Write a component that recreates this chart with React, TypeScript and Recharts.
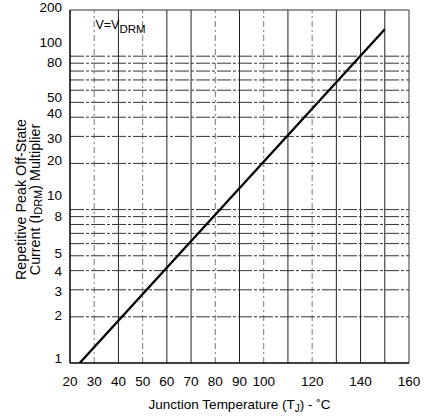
import React from "react";
import {
  LineChart,
  Line,
  XAxis,
  YAxis,
  ReferenceLine,
  ReferenceDot,
} from "recharts";

// Junction temperature (°C) and IDRM multiplier at the line's end points
const temperatures = [24, 150];
const multipliers = [1, 150];

const xTicks = [20, 30, 40, 50, 60, 70, 80, 90, 100, 120, 140, 160];
const yTicks = [1, 2, 3, 4, 5, 8, 10, 20, 30, 40, 50, 80, 100, 200];

const xGrid = [30, 40, 50, 60, 70, 80, 90, 100, 110, 120, 130, 140, 150];
const yGrid = [2, 3, 4, 5, 6, 7, 8, 9, 10, 20, 30, 40, 50, 60, 70, 80, 90, 100];

// styling / layout helpers (not data)
const xLight = [30, 50, 80, 100, 120];
const yLabelNudge: Record<number, number> = {
  200: -3, 100: -14, 80: -9, 50: -5, 40: -4, 30: 2, 20: -3,
  10: -14, 8: -8, 5: -3, 4: 1, 3: 1, 2: -2, 1: -5,
};

const data = temperatures.map((t, i) => ({ t, v: multipliers[i] }));

const SANS = "'Liberation Sans', Arial, Helvetica, sans-serif";

const YTick = (props: any) => {
  const { x, y, payload } = props;
  const nudge = yLabelNudge[payload.value] ?? 0;
  return (
    <text
      x={x}
      y={y + nudge}
      dy="0.355em"
      textAnchor="end"
      fontFamily={SANS}
      fontSize={13.5}
      fill="#000"
    >
      {payload.value}
    </text>
  );
};

const XTitle = (props: any) => {
  const vb = props.viewBox || {};
  const cx = vb.x + vb.width / 2;
  const y = vb.y + 46;
  return (
    <text x={cx} y={y} textAnchor="middle" fontFamily={SANS} fontSize={13.5} fill="#000">
      Junction Temperature (T
      <tspan fontSize={10} dy={3}>J</tspan>
      <tspan dy={-3}>) - ˚C</tspan>
    </text>
  );
};

const YTitle = (props: any) => {
  const vb = props.viewBox || {};
  const cy = vb.y + vb.height / 2 + 13;
  const x1 = 21;
  const x2 = 35;
  return (
    <g>
      <text
        x={x1}
        y={cy}
        transform={`rotate(-90, ${x1}, ${cy})`}
        textAnchor="middle"
        dominantBaseline="central"
        fontFamily={SANS}
        fontSize={14.3}
        fill="#000"
      >
        Repetitive Peak Off-State
      </text>
      <text
        x={x2}
        y={cy}
        transform={`rotate(-90, ${x2}, ${cy})`}
        textAnchor="middle"
        dominantBaseline="central"
        fontFamily={SANS}
        fontSize={14.3}
        fill="#000"
      >
        Current (I
        <tspan fontSize={11} dy={3}>DRM</tspan>
        <tspan dy={-3}>) Multiplier</tspan>
      </text>
    </g>
  );
};

const Annotation = (props: any) => {
  const vb = props.viewBox || {};
  const x = vb.x ?? vb.cx ?? 0;
  const y = vb.y ?? vb.cy ?? 0;
  return (
    <text x={x} y={y} fontFamily={SANS} fontSize={12.5} fill="#000">
      V=V
      <tspan fontSize={11.5} dy={4}>DRM</tspan>
    </text>
  );
};

export default function App() {
  return (
    <div style={{ position: "absolute", left: 0, top: 0, background: "#fff" }}>
      <LineChart
        width={425}
        height={417}
        data={data}
        margin={{ top: 10, right: 16, bottom: 0, left: 0 }}
      >
        <XAxis
          dataKey="t"
          type="number"
          domain={[20, 160]}
          ticks={xTicks}
          interval={0}
          allowDataOverflow
          height={54}
          tickLine={false}
          tickSize={0}
          tickMargin={13}
          axisLine={{ stroke: "#000", strokeWidth: 1.5 }}
          tick={{ fontFamily: SANS, fontSize: 13.5, fill: "#000" }}
          label={{ content: XTitle }}
        />
        <YAxis
          type="number"
          scale="log"
          domain={[1, 200]}
          ticks={yTicks}
          interval={0}
          allowDataOverflow
          width={70}
          tickLine={false}
          tickSize={0}
          tickMargin={8}
          axisLine={{ stroke: "#000", strokeWidth: 1.5 }}
          tick={<YTick />}
          label={{ content: YTitle }}
        />
        {xGrid.map((v) => (
          <ReferenceLine
            key={`x${v}`}
            x={v}
            stroke={xLight.includes(v) ? "#777" : "#222"}
            strokeWidth={1}
            strokeDasharray={xLight.includes(v) ? "6 3 2 3" : undefined}
          />
        ))}
        {yGrid.map((v) => (
          <ReferenceLine
            key={`y${v}`}
            y={v}
            stroke="#333"
            strokeWidth={1}
            strokeDasharray="14 2 3 2"
          />
        ))}
        <ReferenceLine x={160} stroke="#333" strokeWidth={1} />
        <ReferenceLine y={200} stroke="#333" strokeWidth={1} />
        <ReferenceDot
          x={30.5}
          y={150}
          r={0}
          fill="none"
          stroke="none"
          label={{ content: Annotation }}
        />
        <Line
          type="linear"
          dataKey="v"
          stroke="#000"
          strokeWidth={2.3}
          dot={false}
          isAnimationActive={false}
        />
      </LineChart>
    </div>
  );
}
